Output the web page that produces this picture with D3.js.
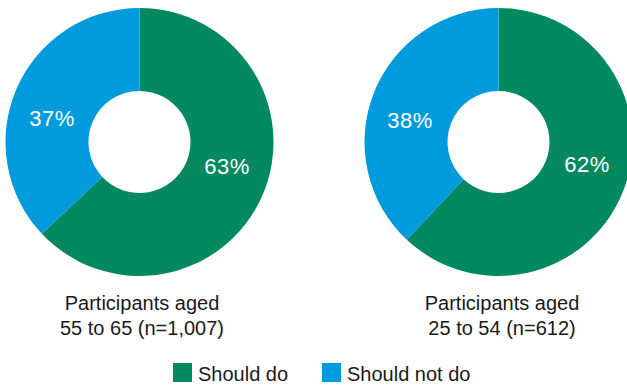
<!DOCTYPE html>
<html>
<head>
<meta charset="utf-8">
<script src="https://cdn.jsdelivr.net/npm/d3@7"></script>
<style>
  html, body { margin: 0; padding: 0; background: #fff; }
  svg { display: block; font-family: "Liberation Sans", Arial, sans-serif; }
</style>
</head>
<body>
<div id="chart"></div>
<script>
// data
const categories = ["Should do", "Should not do"];
const colours = ["#03895f", "#009bdc"];
const groupLine1 = ["Participants aged", "Participants aged"];
const groupLine2 = ["55 to 65 (n=1,007)", "25 to 54 (n=612)"];
const shouldDo = [63, 62];
const shouldNotDo = [37, 38];

const width = 627, height = 388;
const rOuter = 134, rInner = 51;
const donutX = [139.5, 498.5];
const donutY = 142;
const captionX = [142, 502];

const svg = d3.select("#chart").append("svg")
  .attr("width", width)
  .attr("height", height);

const colour = d3.scaleOrdinal().domain(categories).range(colours);

const pie = d3.pie()
  .sort(null)
  .value(d => d.value);

const arc = d3.arc()
  .innerRadius(rInner)
  .outerRadius(rOuter);

const labelArc = d3.arc()
  .innerRadius((rInner + rOuter) / 2)
  .outerRadius((rInner + rOuter) / 2);

groupLine1.forEach((g, i) => {
  const values = [
    { key: categories[0], value: shouldDo[i] },
    { key: categories[1], value: shouldNotDo[i] }
  ];

  const donut = svg.append("g")
    .attr("transform", `translate(${donutX[i]},${donutY})`);

  const slices = pie(values);

  donut.selectAll("path")
    .data(slices)
    .join("path")
      .attr("d", arc)
      .attr("fill", d => colour(d.data.key));

  // percent labels sit a bit flatter than the true centroid
  donut.selectAll("text")
    .data(slices)
    .join("text")
      .attr("x", d => labelArc.centroid(d)[0] * 1.03)
      .attr("y", d => labelArc.centroid(d)[1] * 0.65 + 8)
      .attr("text-anchor", "middle")
      .attr("fill", "#fff")
      .style("font-size", "22px")
      .style("letter-spacing", "0.5px")
      .text(d => d.data.value + "%");

  const cap = svg.append("text")
    .attr("x", captionX[i])
    .attr("text-anchor", "middle")
    .attr("fill", "#1a1a1a")
    .style("font-size", "20px");
  cap.append("tspan").attr("x", captionX[i]).attr("y", 310).text(groupLine1[i]);
  cap.append("tspan").attr("x", captionX[i]).attr("y", 335).text(groupLine2[i]);
});

// legend
const legendX = [173, 322];
const legend = svg.selectAll("g.legend")
  .data(categories)
  .join("g")
    .attr("class", "legend")
    .attr("transform", (d, i) => `translate(${legendX[i]},363)`);

legend.append("rect")
  .attr("width", 19)
  .attr("height", 19)
  .attr("fill", d => colour(d));

legend.append("text")
  .attr("x", 25)
  .attr("y", 17.5)
  .attr("fill", "#1a1a1a")
  .style("font-size", "20px")
  .text(d => d);
</script>
</body>
</html>
